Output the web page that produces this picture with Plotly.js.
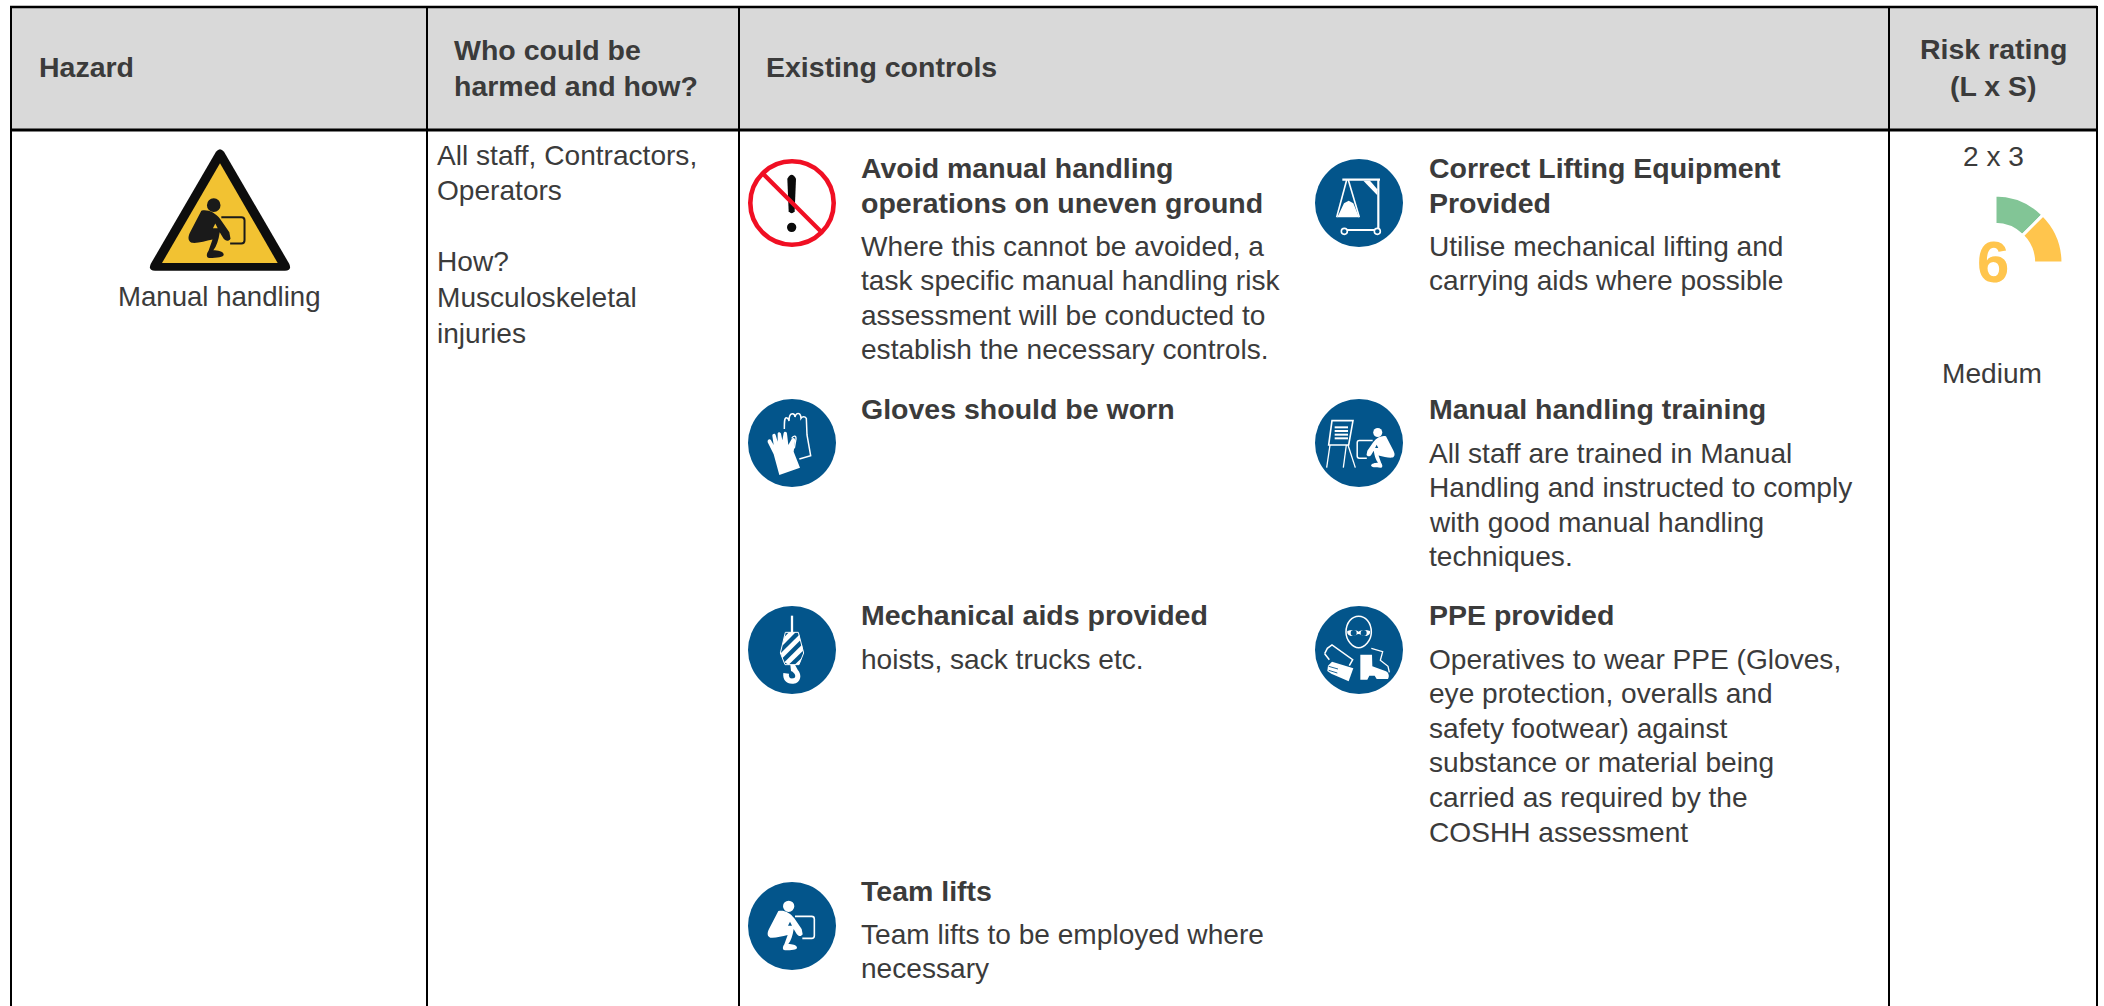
<!DOCTYPE html>
<html>
<head>
<meta charset="utf-8">
<title>Risk assessment</title>
<script src="https://cdn.plot.ly/plotly-3.0.1.min.js"></script>
<style>html,body{margin:0;padding:0;background:#fff}#chart{width:2104px;height:1006px}</style>
</head>
<body>
<div id="chart"></div>
<script>
/* ---------- content ---------- */
var headerHazard = ["Hazard"];
var headerWho = ["Who could be", "harmed and how?"];
var headerControls = ["Existing controls"];
var headerRisk = ["Risk rating", "(L x S)"];
var hazardName = ["Manual handling"];
var whoLines = ["All staff, Contractors,", "Operators", "", "How?", "Musculoskeletal", "injuries"];

var controlTitles = [
  ["Avoid manual handling", "operations on uneven ground"],
  ["Correct Lifting Equipment", "Provided"],
  ["Gloves should be worn"],
  ["Manual handling training"],
  ["Mechanical aids provided"],
  ["PPE provided"],
  ["Team lifts"]
];
var controlBodies = [
  ["Where this cannot be avoided, a", "task specific manual handling risk", "assessment will be conducted to", "establish the necessary controls."],
  ["Utilise mechanical lifting and", "carrying aids where possible"],
  [],
  ["All staff are trained in Manual", "Handling and instructed to comply", "with good manual handling", "techniques."],
  ["hoists, sack trucks etc."],
  ["Operatives to wear PPE (Gloves,", "eye protection, overalls and", "safety footwear) against", "substance or material being", "carried as required by the", "COSHH assessment"],
  ["Team lifts to be employed where", "necessary"]
];
var riskProduct = ["2 x 3"];
var riskScore = ["6"];
var riskLevel = ["Medium"];
var gaugeBands = ["Low", "Medium", "Unused"];
var gaugeShares = [1, 1, 6];

/* ---------- layout geometry (pixels of the page) ---------- */
var W = 2104, H = 1006;
var INK = "#3b3b3b", BLUE = "#03558b", RED = "#f00f23", AMBER = "#ffc54d", GREEN = "#82c596", HAZ = "#f2c232";
var FONT = "Liberation Sans";
var BODY = 28.1, TITLE = 28.5, HEAD = 28.5, LH = 35;

var controlX = [860, 1428, 860, 1428, 860, 1428, 860];
var controlY = [168, 168, 409, 409, 615, 615, 891];
var bodyY    = [246, 246, null, 453, 659, 659, 934];
var iconX    = [792, 1359, 792, 1359, 792, 1359, 792];
var iconY    = [203, 203, 443, 443, 650, 650, 926];

var shapes = [], annotations = [];

function addLines(lines, x, y, lh, size, bold, anchor) {
  lines.forEach(function (t, i) {
    if (!t) return;
    annotations.push({
      x: x, y: y + i * lh, xref: "x", yref: "y", text: bold ? "<b>" + t + "</b>" : t,
      showarrow: false, xanchor: anchor || "left", yanchor: "middle",
      align: anchor || "left", borderpad: 0,
      font: {family: FONT, size: size, color: INK}
    });
  });
}
function rect(x0, y0, x1, y1, fill) {
  shapes.push({type: "rect", xref: "x", yref: "y", x0: x0, y0: y0, x1: x1, y1: y1, fillcolor: fill, line: {width: 0}, layer: "below"});
}
function seg(x0, y0, x1, y1, w, c) {
  shapes.push({type: "line", xref: "x", yref: "y", x0: x0, y0: y0, x1: x1, y1: y1, line: {width: w, color: c || "#000"}});
}
function dot(cx, cy, r, fill, strokeW, stroke) {
  shapes.push({type: "circle", xref: "x", yref: "y", x0: cx - r, x1: cx + r, y0: cy - r, y1: cy + r,
    fillcolor: fill || "rgba(0,0,0,0)", line: {width: strokeW || 0, color: stroke || "rgba(0,0,0,0)"}});
}
/* art is authored in 3x crop pixels, mapped through ox,oy then a scale/mirror */
function art(d, ox, oy, t) {
  t = t || {sx: 1, sy: 1, tx: 0, ty: 0};
  var i = 0;
  return d.replace(/-?\d+(\.\d+)?/g, function (n) {
    var v = parseFloat(n), r;
    if (i % 2 === 0) r = ox + (v * t.sx + t.tx) / 3; else r = oy + (v * t.sy + t.ty) / 3;
    i++;
    return r.toFixed(2);
  });
}
function fillPath(d, ox, oy, c, t) {
  shapes.push({type: "path", xref: "x", yref: "y", path: art(d, ox, oy, t), fillcolor: c, line: {width: 0}});
}
function strokePath(d, ox, oy, c, w, t) {
  shapes.push({type: "path", xref: "x", yref: "y", path: art(d, ox, oy, t), fillcolor: "rgba(0,0,0,0)", line: {width: w, color: c}});
}
/* crouching figure, authored in the team-lift crop */
var FIG_BODY = "M100 96 C115 92 135 100 148 118 L170 150 L173 166 C168 174 160 172 155 165 L146 150 C143 170 138 185 130 195 C140 195 156 198 156 206 C156 212 140 214 120 214 C112 214 112 204 118 196 L128 168 C110 172 90 178 76 176 C66 172 66 162 72 150 Z";
var FIG_HOLE = "M135 128 L141 140 L129 140 Z";
var FIG_FRAME = "M150 112 L200 112 Q208 112 208 120 L208 170 Q208 178 200 178 L172 178";
function figure(ox, oy, c, bg, t, fw) {
  t = t || {sx: 1, sy: 1, tx: 0, ty: 0};
  strokePath(FIG_FRAME, ox, oy, c, fw, t);
  fillPath(FIG_BODY, ox, oy, c, t);
  fillPath(FIG_HOLE, ox, oy, bg, t);
  dot(ox + (131 * t.sx + t.tx) / 3, oy + (82 * t.sy + t.ty) / 3, 17 * Math.abs(t.sx) / 3, c);
}

/* ---------- table ---------- */
rect(10, 7, 2097, 130, "#d9d9d9");
seg(10, 7, 2097, 7, 2.5);
seg(10, 130, 2097, 130, 3);
[11, 427, 739, 1889, 2097].forEach(function (x) { seg(x, 6, x, H, 2); });

addLines(headerHazard, 38, 67, 37, HEAD, true);
addLines(headerWho, 453, 50, 36, HEAD, true);
addLines(headerControls, 765, 67, 37, HEAD, true);
addLines(headerRisk, 1993, 49, 37, HEAD, true, "center");

addLines(hazardName, 219, 296, LH, 27.6, false, "center");
addLines(whoLines, 436, 155, 35.6, BODY, false);

controlTitles.forEach(function (lines, i) {
  addLines(lines, controlX[i], controlY[i], 34.5, TITLE, true);
  if (controlBodies[i].length) addLines(controlBodies[i], controlX[i], bodyY[i], 34.6, BODY, false);
});

addLines(riskProduct, 1993, 156, LH, BODY, false, "center");
addLines(riskLevel, 1992, 373, LH, BODY, false, "center");
annotations.push({x: 1993, y: 261, xref: "x", yref: "y", text: "<b>" + riskScore[0] + "</b>", showarrow: false,
  xanchor: "center", yanchor: "middle", font: {family: FONT, size: 58, color: AMBER}});

/* ---------- hazard triangle ---------- */
(function () {
  var ox = 140, oy = 140;
  fillPath("M228 35 Q240 20 252 35 L448 372 Q456 392 435 392 L45 392 Q24 392 32 372 Z", ox, oy, "#0d0d0d");
  fillPath("M240 70 L413 369 L66 369 Z", ox, oy, HAZ);
  figure(ox, oy, "#1a1a1a", HAZ, {sx: 1.2, sy: 1.2, tx: 64, ty: 97}, 2);
})();

/* ---------- prohibition sign ---------- */
(function () {
  var ox = 730, oy = 130;
  fillPath("M172 146 Q185 122 198 146 L194 244 Q185 256 176 244 Z", ox, oy, "#0a0a0a");
  dot(ox + 185 / 3, oy + 292 / 3, 14 / 3, "#0a0a0a");
  dot(iconX[0], iconY[0], 41.7, null, 4.6, RED);
  seg(ox + 100 / 3, oy + 132 / 3, ox + 275 / 3, oy + 307 / 3, 4.2, RED);
})();

/* ---------- blue discs ---------- */
for (var k = 1; k < iconX.length; k++) dot(iconX[k], iconY[k], 44, BLUE);

/* lifting frame */
(function () {
  var ox = 1300, oy = 130, c = "#fff";
  seg(ox + 127 / 3, oy + 149 / 3, ox + 240 / 3, oy + 149 / 3, 2.4, c);
  seg(ox + 235 / 3, oy + 147 / 3, ox + 235 / 3, oy + 300 / 3, 2.2, c);
  fillPath("M190 152 L210 152 L232 178 L232 196 Z", ox, oy, c);
  seg(ox + 133 / 3, oy + 300 / 3, ox + 235 / 3, oy + 300 / 3, 2, c);
  dot(ox + 133 / 3, oy + 304 / 3, 3, BLUE, 1.6, c);
  dot(ox + 232 / 3, oy + 304 / 3, 3, BLUE, 1.6, c);
  seg(ox + 140 / 3, oy + 150 / 3, ox + 110 / 3, oy + 262 / 3, 1.6, c);
  seg(ox + 145 / 3, oy + 150 / 3, ox + 178 / 3, oy + 262 / 3, 1.6, c);
  fillPath("M112 262 L132 220 L146 212 L160 220 L177 262 Z", ox, oy, c);
})();

/* gloves */
(function () {
  var ox = 745, oy = 395;
  strokePath("M118 102 C118 80 118 68 124 68 C130 68 130 72 132 78 C132 60 136 56 142 56 C148 56 150 62 150 66 C152 56 158 54 162 56 C166 58 168 62 168 70 C172 64 180 64 184 70 L186 120 L197 182 L163 192", ox, oy, "#fff", 1.5);
  strokePath("M140 130 C146 120 154 122 153 132 L148 160", ox, oy, "#fff", 1.3);
  fillPath("M68 142 C66 132 76 130 78 136 L86 150 L82 122 C82 116 90 114 92 120 L98 140 L98 116 C98 110 106 110 108 116 L112 136 L116 114 C118 108 126 110 126 116 L130 150 L140 132 C144 126 152 130 150 138 L146 170 L165 218 L103 240 L86 178 Z", ox, oy, "#fff");
})();

/* flip chart + figure */
(function () {
  var ox = 1312, oy = 395, c = "#fff";
  strokePath("M60 77 L123 77 L110 150 L50 150 Z", ox, oy, c, 1.6);
  [97, 108, 119, 130].forEach(function (y) { seg(ox + 68 / 3, oy + y / 3, ox + 108 / 3, oy + y / 3, 2, c); });
  seg(ox + 54 / 3, oy + 150 / 3, ox + 44 / 3, oy + 218 / 3, 1.3, c);
  seg(ox + 103 / 3, oy + 150 / 3, ox + 94 / 3, oy + 218 / 3, 1.3, c);
  seg(ox + 108 / 3, oy + 150 / 3, ox + 130 / 3, oy + 218 / 3, 1.3, c);
  figure(ox, oy, c, BLUE, {sx: -0.8, sy: 0.8, tx: 302, ty: 47}, 1.5);
})();

/* hook */
(function () {
  var ox = 745, oy = 603, c = "#fff";
  seg(ox + 141 / 3, oy + 38 / 3, ox + 141 / 3, oy + 90 / 3, 2.3, c);
  strokePath("M121 88 L160 88 L176 150 L162 185 L120 185 L106 150 Z", ox, oy, c, 1);
  fillPath("M132 88 L152 88 L112 128 L118 102 Z", ox, oy, c);
  fillPath("M163 95 L166 112 L112 166 L107 151 Z", ox, oy, c);
  fillPath("M171 125 L174 143 L131 185 L118 178 Z", ox, oy, c);
  fillPath("M170 165 L162 185 L149 185 Z", ox, oy, c);
  fillPath("M136 185 L150 185 L158 200 C172 215 168 240 145 242 C125 244 112 230 115 210 L132 212 C130 222 135 228 145 226 C155 224 152 210 138 204 Z", ox, oy, c);
})();

/* PPE */
(function () {
  var ox = 1312, oy = 603, c = "#fff";
  strokePath("M102 88 C102 58 120 40 140 40 C160 40 178 58 178 88 C178 112 158 134 140 134 C122 134 102 112 102 88 Z", ox, oy, c, 1.5);
  fillPath("M106 84 C120 78 135 82 140 86 C145 82 160 78 174 84 C176 92 170 99 160 99 C150 99 145 93 140 93 C135 93 130 99 120 99 C110 99 104 92 106 84 Z", ox, oy, c);
  dot(ox + 125 / 3, oy + 90 / 3, 3, BLUE);
  dot(ox + 155 / 3, oy + 90 / 3, 3, BLUE);
  strokePath("M38 152 L46 136 L60 126 L122 170 L112 188 M38 152 L52 170", ox, oy, c, 1.5);
  fillPath("M48 188 L60 176 L124 196 L110 235 L58 212 L46 204 Z", ox, oy, c);
  seg(ox + 50 / 3, oy + 190 / 3, ox + 78 / 3, oy + 198 / 3, 0.9, BLUE);
  seg(ox + 50 / 3, oy + 202 / 3, ox + 76 / 3, oy + 210 / 3, 0.9, BLUE);
  fillPath("M145 155 L180 155 L181 190 L222 205 C232 210 232 222 228 228 L194 228 L188 218 L172 218 L166 230 L145 230 Z", ox, oy, c);
  strokePath("M178 136 L212 146 L205 172 L228 190 L232 208", ox, oy, c, 1.3);
})();

/* team lift figure */
figure(745, 879, "#fff", BLUE, null, 1.6);

/* ---------- traces ---------- */
var cx = 1995, cy = 263, R = 68;
var gauge = {
  type: "pie", sort: false, direction: "clockwise", rotation: 0, hole: 0.57,
  labels: gaugeBands, values: gaugeShares, textinfo: "none", hoverinfo: "skip", showlegend: false,
  marker: {colors: [GREEN, AMBER, "rgba(0,0,0,0)"], line: {width: [3, 3, 0], color: ["#fff", "#fff", "rgba(0,0,0,0)"]}},
  domain: {x: [(cx - R) / W, (cx + R) / W], y: [1 - (cy + R) / H, 1 - (cy - R) / H]}
};
var frame = {type: "scatter", mode: "markers", x: [0, W], y: [0, H], marker: {size: 1, opacity: 0}, hoverinfo: "skip", showlegend: false};

Plotly.newPlot("chart", [frame, gauge], {
  width: W, height: H, margin: {l: 0, r: 0, t: 0, b: 0, pad: 0},
  paper_bgcolor: "#fff", plot_bgcolor: "#fff", showlegend: false,
  xaxis: {range: [0, W], visible: false, fixedrange: true},
  yaxis: {range: [H, 0], visible: false, fixedrange: true},
  shapes: shapes, annotations: annotations
}, {displayModeBar: false, staticPlot: true});
</script>
</body>
</html>
